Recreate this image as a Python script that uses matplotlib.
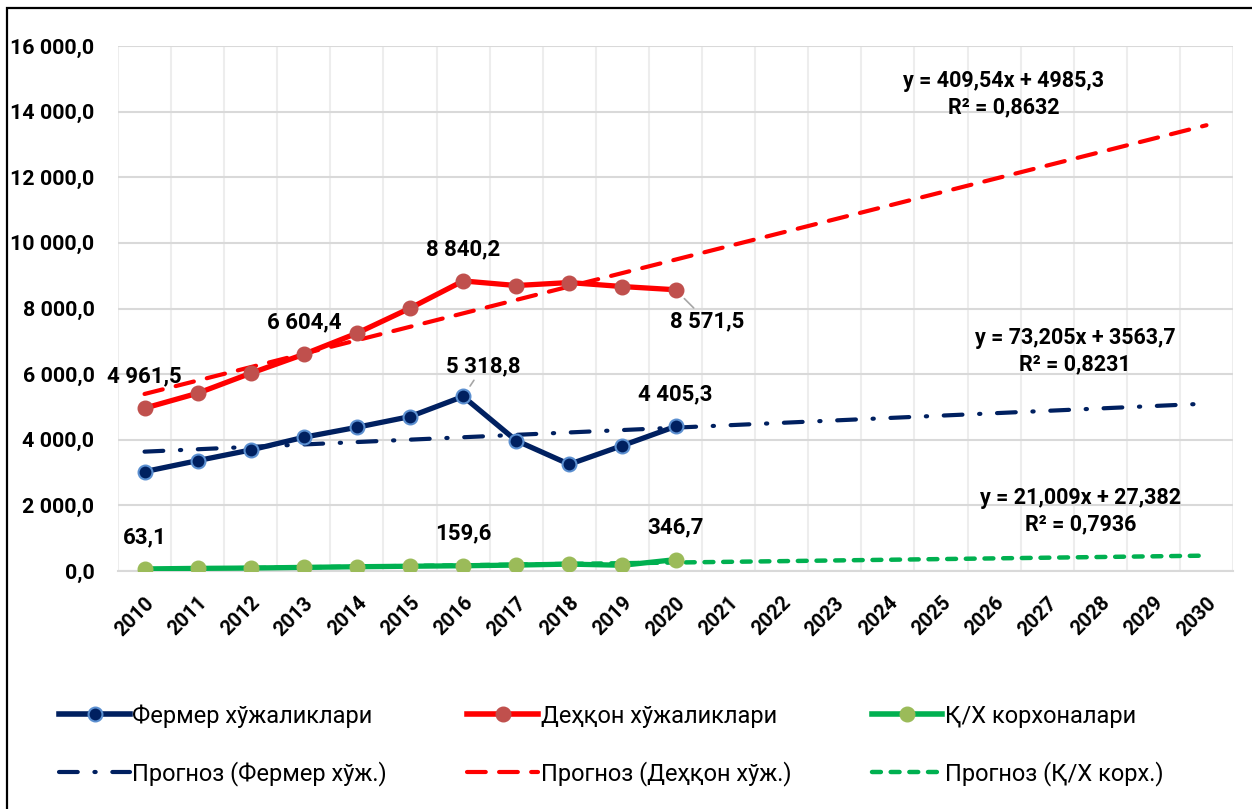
import numpy as np
import matplotlib
matplotlib.use('Agg')
import matplotlib.pyplot as plt
from matplotlib.patches import Rectangle
from matplotlib.lines import Line2D

plt.rcParams['font.family'] = ['Roboto', 'DejaVu Sans']

years = [str(y) for y in range(2010, 2031)]
factYears = 11

fermer = [3028, 3364, 3689, 4076, 4380, 4706, 5318.8, 3974, 3252, 3822, 4405.3]
dehqon = [4961.5, 5418, 6027, 6604.4, 7247, 8009, 8840.2, 8700, 8791, 8669, 8571.5]
korxona = [63.1, 80, 90, 110, 130, 145, 159.6, 180, 210, 175, 346.7]

# trend coefficients (slope, intercept, R2) as printed on the chart
trendFermer = (73.205, 3563.7, '0,8231')
trendDehqon = (409.54, 4985.3, '0,8632')
trendKorxona = (21.009, 27.382, '0,7936')

labelsFermer = {6: '5 318,8', 10: '4 405,3'}
labelsDehqon = {0: '4 961,5', 3: '6 604,4', 6: '8 840,2', 10: '8 571,5'}
labelsKorxona = {0: '63,1', 6: '159,6', 10: '346,7'}

navy = '#002060'
red = '#FF0000'
green = '#00B050'

fig = plt.figure(figsize=(12.52, 8.09), dpi=100)
ax = fig.add_axes([118 / 1252, 1 - 571 / 809, 1115 / 1252, 525 / 809])

xFact = np.arange(factYears)
xAll = np.arange(len(years))


def fmt(v):
    s = f'{v:,.1f}'
    return s.replace(',', ' ').replace('.', ',')


def trendValues(coef):
    return coef[0] * (xAll + 1) + coef[1]


# trend lines
ax.plot(xAll, trendValues(trendFermer), color=navy, lw=3, dashes=(4.5, 4, 0.3, 4),
        dash_capstyle='round', zorder=2)
ax.plot(xAll, trendValues(trendDehqon), color=red, lw=3, dashes=(4.5, 3.2),
        dash_capstyle='round', zorder=2)
ax.plot(xAll, trendValues(trendKorxona), color=green, lw=3.2, dashes=(2.0, 2.2),
        dash_capstyle='round', zorder=2)

# actual series
ax.plot(xFact, fermer, color=navy, lw=3.8, marker='o', ms=10, mfc=navy, mec='#5B8FD0',
        mew=1.5, zorder=4)
ax.plot(xFact, dehqon, color=red, lw=3.8, marker='o', ms=10.5, mfc='#C0504D', mec='#C0504D',
        zorder=4)
ax.plot(xFact, korxona, color=green, lw=3.8, marker='o', ms=10.5, mfc='#9BBB59', mec='#9BBB59',
        zorder=3)

lblFont = dict(fontsize=16, fontweight='bold', ha='center', va='center', zorder=6)

for i, t in labelsDehqon.items():
    if i == 10:
        ax.annotate(t, xy=(i, dehqon[i]), xytext=(32, -32), textcoords='offset pixels',
                    arrowprops=dict(arrowstyle='-', color='#A6A6A6', lw=1.2, shrinkA=0, shrinkB=9),
                    **lblFont)
    else:
        ax.annotate(t, xy=(i, dehqon[i]), xytext=(0, 32), textcoords='offset pixels', **lblFont)

for i, t in labelsFermer.items():
    if i == 6:
        ax.annotate(t, xy=(i, fermer[i]), xytext=(20, 30), textcoords='offset pixels',
                    arrowprops=dict(arrowstyle='-', color='#A6A6A6', lw=1.2, shrinkA=0, shrinkB=9),
                    **lblFont)
    else:
        ax.annotate(t, xy=(i, fermer[i]), xytext=(0, 32), textcoords='offset pixels', **lblFont)

for i, t in labelsKorxona.items():
    ax.annotate(t, xy=(i, korxona[i]), xytext=(0, 32), textcoords='offset pixels', **lblFont)

eqFont = dict(fontsize=15.5, fontweight='bold', ha='center', va='center', linespacing=1.25)
for coef, pos in [(trendDehqon, (16.18, 14543)), (trendFermer, (17.53, 6708)),
                  (trendKorxona, (17.63, 1829))]:
    eq = f'y = {coef[0]:g}x + {coef[1]:g}'.replace('.', ',')
    ax.text(pos[0], pos[1], eq + '\nR² = ' + coef[2], **eqFont)

ax.set_xlim(-0.5, len(years) - 0.5)
ax.set_ylim(0, 16000)
ax.set_yticks(np.arange(0, 16001, 2000))
ax.set_yticklabels([fmt(v) for v in np.arange(0, 16001, 2000)], fontsize=15.4, fontweight='bold')
ax.set_xticks(xAll)
ax.set_xticklabels(years, fontsize=14.5, fontweight='bold', rotation=45, ha='right',
                   rotation_mode='anchor')
ax.tick_params(axis='both', length=0)
ax.tick_params(axis='y', pad=17)
ax.tick_params(axis='x', pad=16)

ax.set_xticks(np.arange(-0.5, len(years)), minor=True)
ax.tick_params(axis='x', which='minor', length=0)
ax.grid(axis='y', which='major', color='#D9D9D9', lw=1.5)
ax.grid(axis='x', which='minor', color='#EDEDED', lw=1.5)
ax.grid(axis='x', which='major', visible=False)
ax.set_axisbelow(True)
for s in ['top', 'right', 'left']:
    ax.spines[s].set_visible(False)
ax.spines['bottom'].set_color('#D9D9D9')
ax.spines['bottom'].set_linewidth(1.5)

handles = [
    Line2D([], [], color=navy, lw=4, marker='o', ms=10, mfc=navy, mec='#5B8FD0', mew=1.5),
    Line2D([], [], color=navy, lw=3, dashes=(4.5, 4, 0.3, 4), dash_capstyle='round'),
    Line2D([], [], color=red, lw=4, marker='o', ms=10.5, mfc='#C0504D', mec='#C0504D'),
    Line2D([], [], color=red, lw=3, dashes=(4.5, 3.2), dash_capstyle='round'),
    Line2D([], [], color=green, lw=4, marker='o', ms=10.5, mfc='#9BBB59', mec='#9BBB59'),
    Line2D([], [], color=green, lw=3.2, dashes=(2.0, 2.2), dash_capstyle='round'),
]
names = ['Фермер хўжаликлари', 'Прогноз (Фермер хўж.)', 'Деҳқон хўжаликлари',
         'Прогноз (Деҳқон хўж.)', 'Қ/Х корхоналари', 'Прогноз (Қ/Х корх.)']
fig.legend(handles, names, ncol=3, loc='upper left', bbox_to_anchor=(38 / 1252, 1 - 683 / 809),
           frameon=False, fontsize=17, handlelength=3.0, handletextpad=0.1,
           labelspacing=1.4, columnspacing=3.4)

fig.patches.append(Rectangle((7 / 1252, -0.05), 1.1, 1 - 8 / 809 + 0.05, transform=fig.transFigure,
                             fill=False, edgecolor='black', lw=1.6))

fig.savefig('out.png', dpi=100)
